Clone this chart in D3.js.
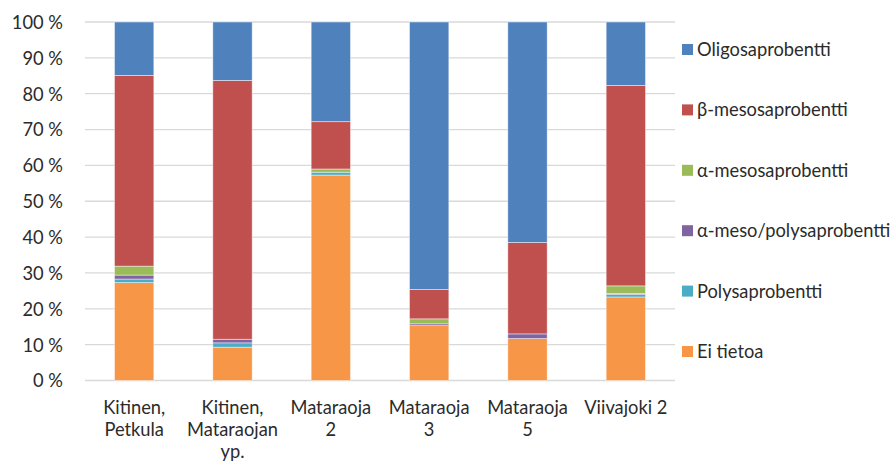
<!DOCTYPE html>
<html>
<head>
<meta charset="utf-8">
<script src="https://cdn.jsdelivr.net/npm/d3@7"></script>
<style>
  html, body { margin: 0; padding: 0; background: #fff; }
  svg { display: block; font-family: Lato, "Open Sans", "Liberation Sans", sans-serif; }
</style>
</head>
<body>
<svg id="chart" width="896" height="464"></svg>
<script>
// Sampling sites (label lines as wrapped under each bar)
const sites = [
  ["Kitinen,", "Petkula"],
  ["Kitinen,", "Mataraojan", "yp."],
  ["Mataraoja", "2"],
  ["Mataraoja", "3"],
  ["Mataraoja", "5"],
  ["Viivajoki 2"]
];

// Series, bottom to top of each stack (percent of individuals)
const seriesNames = [
  "Ei tietoa",
  "Polysaprobentti",
  "α-meso/polysaprobentti",
  "α-mesosaprobentti",
  "β-mesosaprobentti",
  "Oligosaprobentti"
];
const eiTietoa     = [27.3,  9.3, 57.3, 15.3, 11.7, 23.3];
const polysap      = [ 1.0,  1.2,  0.8,  0.0,  0.0,  0.7];
const alphaMesoPol = [ 1.1,  1.0,  0.0,  0.5,  1.3,  0.3];
const alphaMeso    = [ 2.5,  0.0,  0.9,  1.4,  0.0,  2.1];
const betaMeso     = [53.2, 72.2, 13.2,  8.2, 25.5, 55.9];
const oligosap     = [14.9, 16.3, 27.8, 74.6, 61.5, 17.7];

const colors = ["#F79646", "#4BACC6", "#8064A2", "#9BBB59", "#C0504D", "#4F81BD"];
const yTicks = [0, 10, 20, 30, 40, 50, 60, 70, 80, 90, 100];

// Legend lists series top-down, matching stack order
const legendOrder = [5, 4, 3, 2, 1, 0];

const seriesValues = [eiTietoa, polysap, alphaMesoPol, alphaMeso, betaMeso, oligosap];
const rows = sites.map((s, i) => {
  const r = { key: i };
  seriesNames.forEach((n, j) => { r[n] = seriesValues[j][i]; });
  return r;
});

const svg = d3.select("#chart");
const margin = { left: 85, right: 221, top: 22, bottom: 83.5 };
const W = 896, H = 464;
const fontSize = 18.3;
const textColor = "#2b2b2b";

const x = d3.scaleBand()
  .domain(sites.map((s, i) => i))
  .range([margin.left, W - margin.right])
  .paddingInner(0.6)
  .paddingOuter(0.3);

const y = d3.scaleLinear()
  .domain([0, 100])
  .range([H - margin.bottom, margin.top]);

// Gridlines
svg.append("g")
  .selectAll("line")
  .data(yTicks)
  .join("line")
  .attr("x1", margin.left)
  .attr("x2", W - margin.right)
  .attr("y1", d => y(d))
  .attr("y2", d => y(d))
  .attr("stroke", "#d9d9d9")
  .attr("stroke-width", 1.3);

// Y axis labels
const yAxis = d3.axisLeft(y)
  .tickValues(yTicks)
  .tickSize(0)
  .tickPadding(0)
  .tickFormat(d => d + " %");
const yg = svg.append("g")
  .attr("transform", `translate(${margin.left - 22},0)`)
  .call(yAxis);
yg.select(".domain").remove();
yg.selectAll("text")
  .attr("font-size", fontSize)
  .attr("fill", textColor)
  .attr("font-family", "Lato, sans-serif")
  .attr("dy", "0.35em");

// Stacked bars
const stack = d3.stack().keys(seriesNames);
const layers = stack(rows);

svg.append("g")
  .selectAll("g")
  .data(layers)
  .join("g")
  .attr("fill", (d, i) => colors[i])
  .selectAll("rect")
  .data(d => d.filter(p => p[1] - p[0] > 0))
  .join("rect")
  .attr("x", d => x(d.data.key))
  .attr("width", x.bandwidth())
  .attr("y", d => y(d[1]))
  .attr("height", d => y(d[0]) - y(d[1]))
  .attr("stroke", "rgba(255,255,255,0.55)")
  .attr("stroke-width", 0.8);

// X axis category labels
const xg = svg.append("g");
sites.forEach((lines, i) => {
  const t = xg.append("text")
    .attr("text-anchor", "middle")
    .attr("font-size", fontSize)
    .attr("fill", textColor)
    .attr("x", x(i) + x.bandwidth() / 2)
    .attr("y", 414);
  lines.forEach((ln, k) => {
    t.append("tspan")
      .attr("x", x(i) + x.bandwidth() / 2)
      .attr("dy", k === 0 ? 0 : 22)
      .text(ln);
  });
});

// Legend
const lg = svg.append("g");
legendOrder.forEach((si, k) => {
  const cy = 49.5 + k * 60.4;
  lg.append("rect")
    .attr("x", 682)
    .attr("y", cy - 5.5)
    .attr("width", 11)
    .attr("height", 11)
    .attr("fill", colors[si]);
  lg.append("text")
    .attr("x", 697)
    .attr("y", cy)
    .attr("dy", "0.35em")
    .attr("font-size", fontSize)
    .attr("fill", textColor)
    .text(seriesNames[si]);
});
</script>
</body>
</html>
